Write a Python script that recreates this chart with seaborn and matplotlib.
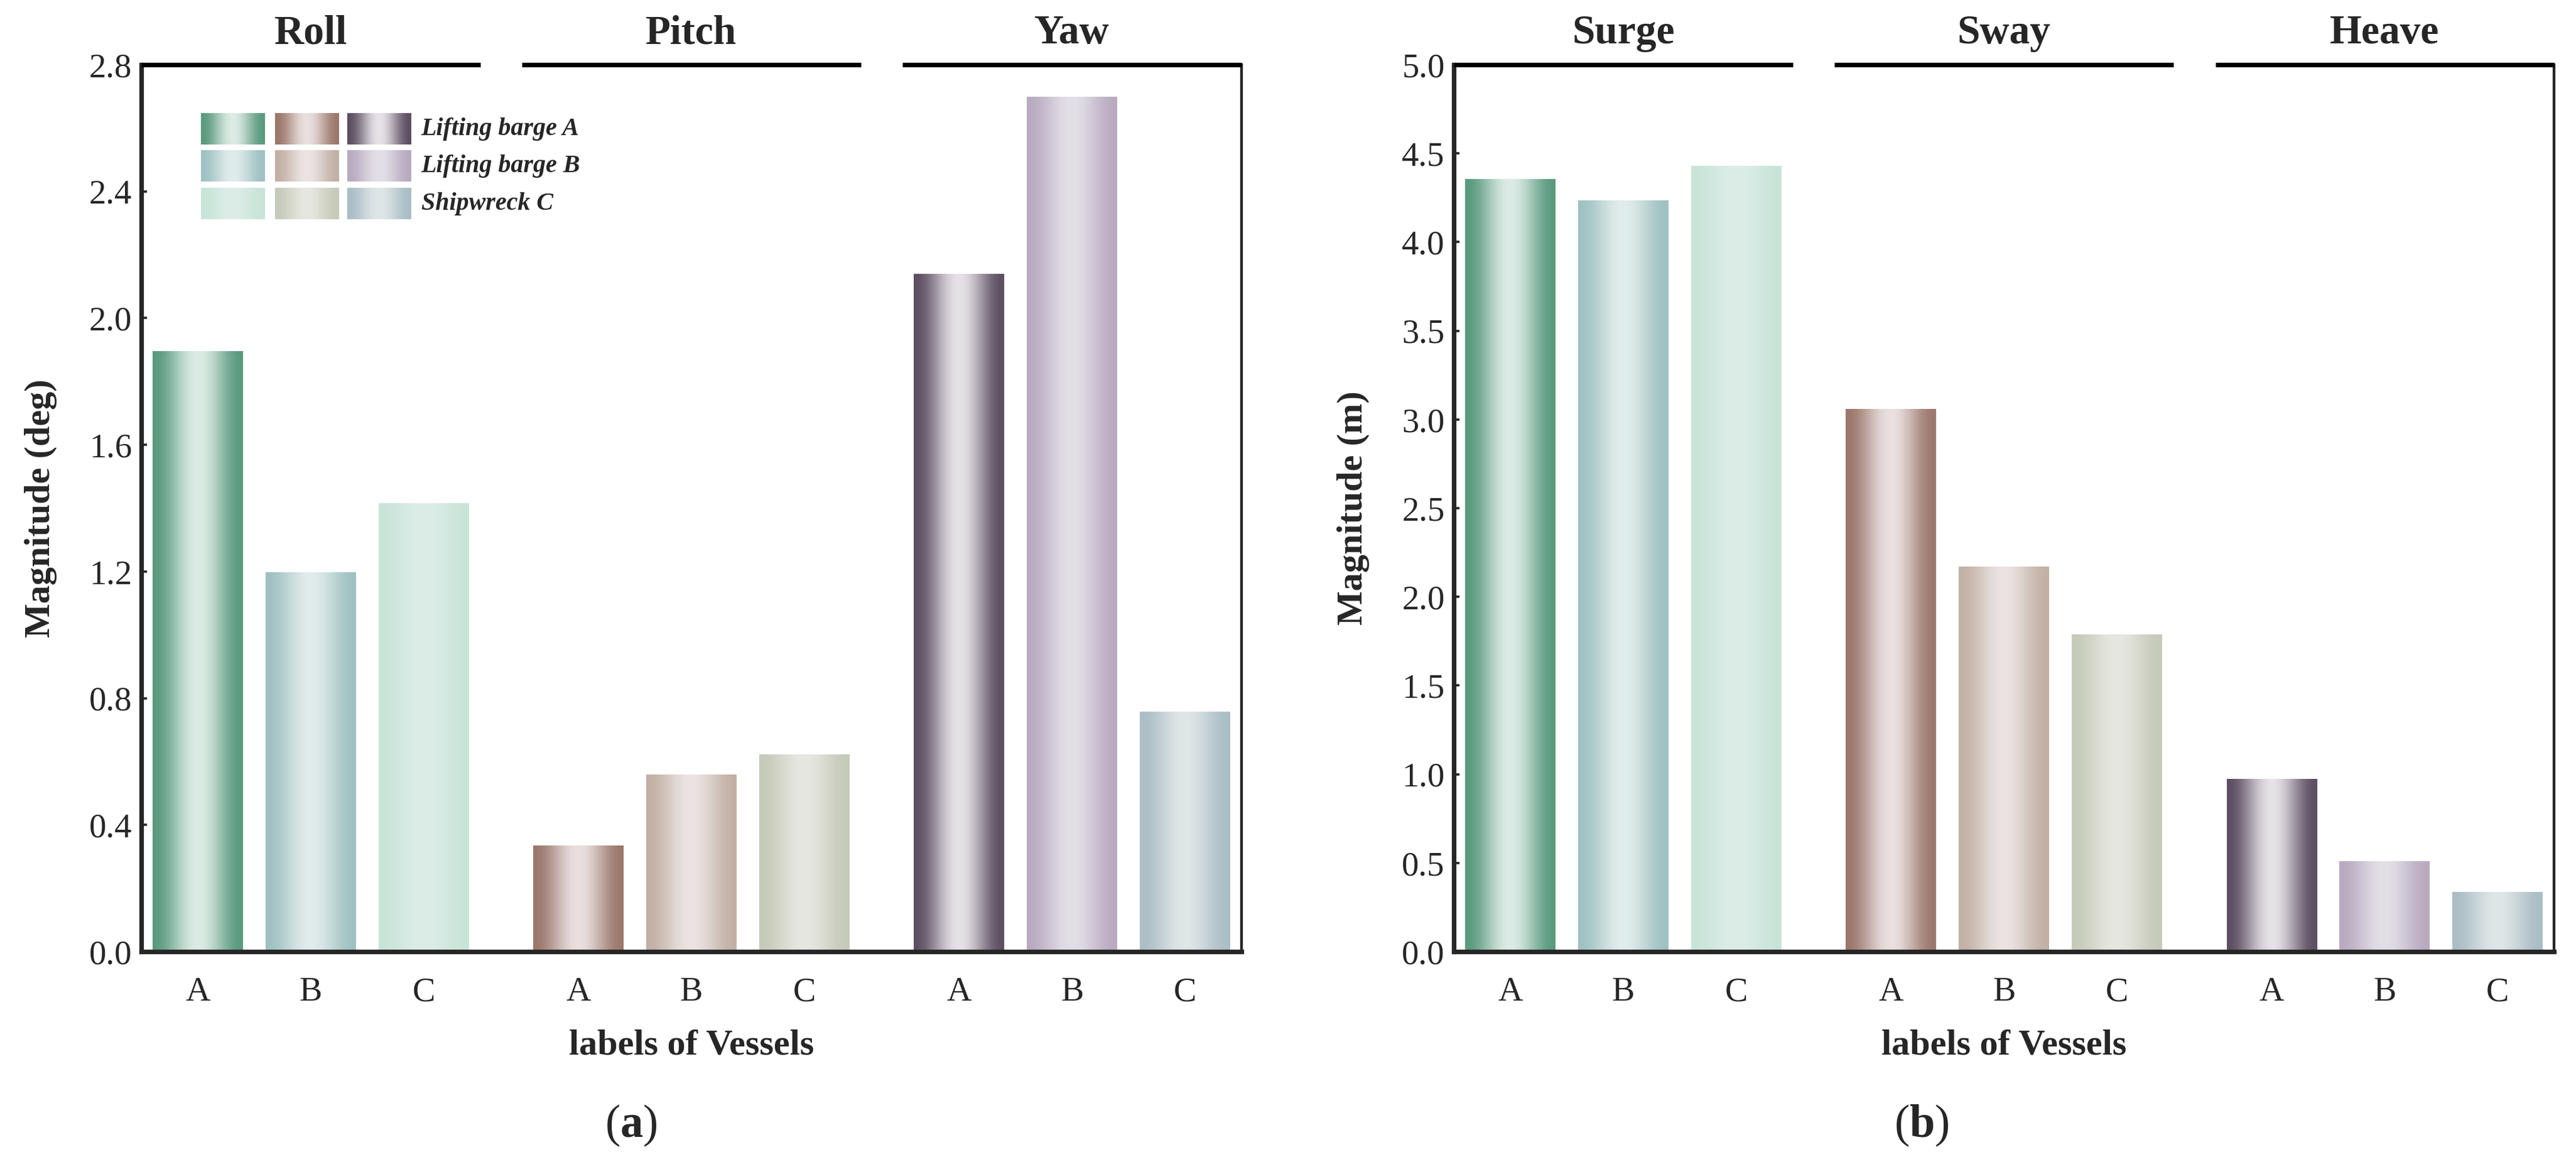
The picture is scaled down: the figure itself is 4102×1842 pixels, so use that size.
import numpy as np
import pandas as pd
import seaborn as sns
import matplotlib.pyplot as plt
from matplotlib import transforms

# Daten
vessels = ['A', 'B', 'C']
legend_labels = ['Lifting barge A', 'Lifting barge B', 'Shipwreck C']
rot_groups = ['Roll', 'Pitch', 'Yaw']
trans_groups = ['Surge', 'Sway', 'Heave']
roll = [1.895, 1.198, 1.416]
pitch = [0.335, 0.560, 0.622]
yaw = [2.139, 2.698, 0.757]
surge = [4.354, 4.235, 4.430]
sway = [3.061, 2.170, 1.787]
heave = [0.975, 0.510, 0.335]

# Farben: [Gruppe][Schiff] -> Randfarbe / Mittenfarbe
edge_colors = [['#5a9a7d', '#9fc1c2', '#c8e4d9'],
               ['#9b776b', '#c2b0a5', '#c6cab9'],
               ['#5c4f61', '#b8abc0', '#aabec5']]
center_colors = [['#dcebe5', '#e1ecec', '#dcede7'],
                 ['#e9e0df', '#ebe4e2', '#e6e7e0'],
                 ['#e7e1e8', '#e3dfe7', '#dfe6e8']]

group_step = 3.37

sns.set_style('ticks')
plt.rcParams['font.family'] = ['Liberation Serif', 'DejaVu Serif']
plt.rcParams['mathtext.fontset'] = 'custom'
plt.rcParams['mathtext.rm'] = 'Liberation Serif'
plt.rcParams['mathtext.bf'] = 'Liberation Serif:bold'


def gradient(edge, center, n=256):
    e = np.array(plt.matplotlib.colors.to_rgb(edge))
    c = np.array(plt.matplotlib.colors.to_rgb(center))
    x = np.linspace(0, 1, n)
    f = np.sin(np.pi * x) ** 2
    img = e[None, :] * (1 - f[:, None]) + c[None, :] * f[:, None]
    return img[None, :, :]


def make_df(groups, series):
    rows = []
    for g, (name, vals) in enumerate(zip(groups, series)):
        for i, v in enumerate(vals):
            rows.append({'group': name, 'g': g, 'i': i, 'vessel': vessels[i],
                         'pos': g * group_step + i, 'value': v})
    return pd.DataFrame(rows)


def draw_panel(ax, groups, series, ylim, yticks, ylabel):
    df = make_df(groups, series)
    sns.barplot(data=df, x='pos', y='value', native_scale=True, width=0.8,
                color='white', ax=ax, errorbar=None)
    # Verlauf in jeden Balken
    for patch in ax.patches:
        x0 = patch.get_x()
        w = patch.get_width()
        h = patch.get_height()
        xc = x0 + w / 2
        row = df.iloc[(df['pos'] - xc).abs().argmin()]
        img = gradient(edge_colors[row['g']][row['i']], center_colors[row['g']][row['i']])
        im = ax.imshow(img, extent=[x0, x0 + w, 0, h], aspect='auto', zorder=2,
                       interpolation='bilinear')
        im.set_clip_path(patch)
        patch.set_facecolor('none')
        patch.set_edgecolor('none')

    ax.set_xlim(-0.5, 2 * group_step + 2.5)
    ax.set_ylim(*ylim)
    ax.set_yticks(yticks)
    ax.set_yticklabels([f'{t:.1f}' for t in yticks])
    ax.set_xticks(df['pos'])
    ax.set_xticklabels(df['vessel'])
    ax.tick_params(axis='x', length=0, pad=11, labelsize=15)
    ax.tick_params(axis='y', direction='in', length=2.5, width=1, pad=4, labelsize=15)
    ax.set_xlabel('labels of Vessels', fontsize=16, fontweight='bold', labelpad=9)
    ax.set_ylabel(ylabel, fontsize=16, fontweight='bold', labelpad=14)

    for s in ['left', 'bottom']:
        ax.spines[s].set_linewidth(2.0)
    ax.spines['right'].set_linewidth(1.2)
    ax.spines['top'].set_visible(False)

    # Obere Linie in drei Stücken mit Titeln
    trans = transforms.blended_transform_factory(ax.transData, ax.transAxes)
    for g, name in enumerate(groups):
        c = g * group_step + 1
        ax.plot([c - 1.5, c + 1.5], [1, 1], transform=trans, color='black', lw=2.0,
                solid_capstyle='butt', clip_on=False, zorder=5)
        ax.text(c, 1.024, name, transform=trans, ha='center', va='baseline',
                fontsize=18, fontweight='bold')


fig = plt.figure(figsize=(4102 / 261.6, 1842 / 261.6), dpi=261.6)
ax1 = fig.add_axes([0.05485, 0.17752, 0.4271, 0.76656])
ax2 = fig.add_axes([0.56440, 0.17752, 0.4271, 0.76656])

draw_panel(ax1, rot_groups, [roll, pitch, yaw], (0, 2.8),
           np.arange(0, 2.81, 0.4), 'Magnitude (deg)')
draw_panel(ax2, trans_groups, [surge, sway, heave], (0, 5.0),
           np.arange(0, 5.01, 0.5), 'Magnitude (m)')

# Legende als Verlaufsfelder
sw_x = [0.0545, 0.1213, 0.1875]
sw_w = 0.0580
sw_y = [0.910, 0.868, 0.8258]
sw_h = 0.0348
for r in range(3):
    for g in range(3):
        img = gradient(edge_colors[g][r], center_colors[g][r])
        ax1.imshow(img, extent=[sw_x[g], sw_x[g] + sw_w, sw_y[r], sw_y[r] + sw_h],
                   transform=ax1.transAxes, aspect='auto', zorder=6,
                   interpolation='bilinear')
    ax1.text(0.2544, sw_y[r] + sw_h / 2, legend_labels[r], transform=ax1.transAxes,
             ha='left', va='center', fontsize=11, fontweight='bold', fontstyle='italic')
ax1.set_xlim(-0.5, 2 * group_step + 2.5)
ax1.set_ylim(0, 2.8)

fig.text(0.245, 0.0271, r'($\mathbf{a}$)', ha='center', va='center', fontsize=20)
fig.text(0.746, 0.0271, r'($\mathbf{b}$)', ha='center', va='center', fontsize=20)

fig.savefig('out.png', dpi=261.6, facecolor='white')
